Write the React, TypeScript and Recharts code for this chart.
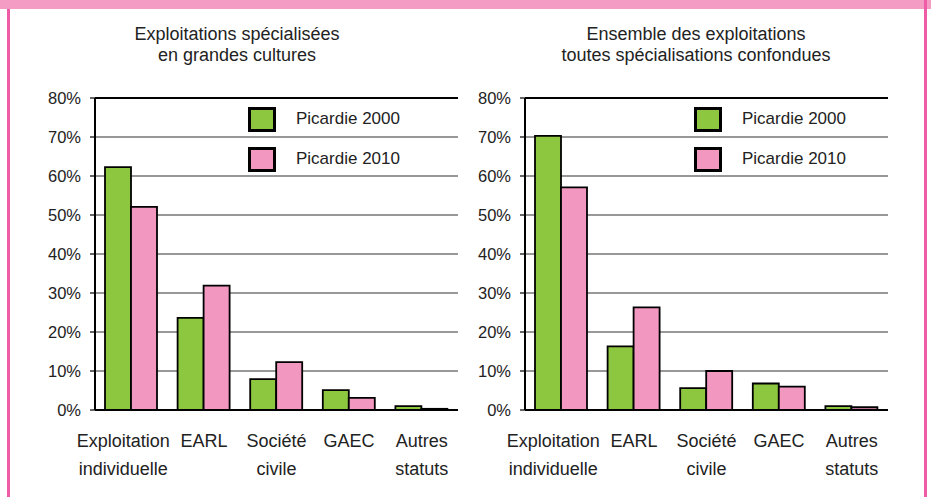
import React from "react";
import { BarChart, Bar, XAxis, YAxis, CartesianGrid, Legend, ReferenceLine } from "recharts";

const categories = ["Exploitation individuelle", "EARL", "Société civile", "GAEC", "Autres statuts"];
const categoryLines = [["Exploitation", "individuelle"], ["EARL"], ["Société", "civile"], ["GAEC"], ["Autres", "statuts"]];

const grandesCultures2000 = [62.3, 23.6, 7.9, 5.1, 1.0];
const grandesCultures2010 = [52.1, 31.9, 12.3, 3.1, 0.3];
const ensemble2000 = [70.3, 16.3, 5.6, 6.8, 1.0];
const ensemble2010 = [57.1, 26.3, 10.0, 6.0, 0.7];

const yTicks = [0, 10, 20, 30, 40, 50, 60, 70, 80];
const seriesNames = ["Picardie 2000", "Picardie 2010"];
const titles = [
  ["Exploitations spécialisées", "en grandes cultures"],
  ["Ensemble des exploitations", "toutes spécialisations confondues"],
];

const FONT = '"Liberation Sans", Arial, Helvetica, sans-serif';
const TEXT = "#222";
const GREEN = "#8DC63F";
const PINK = "#F297C0";

const build = (a: number[], b: number[]) =>
  categories.map((name, i) => ({ name, lines: categoryLines[i], v2000: a[i], v2010: b[i] }));

const CatTick = (props: any) => {
  const { x, y, index } = props;
  const lines = categoryLines[index] || [];
  const dx = index === 0 ? -8 : 0;
  return (
    <g>
      <text x={x + dx} y={y} textAnchor="middle" fill={TEXT} fontSize={18} fontFamily={FONT}>
        {lines.map((l: string, i: number) => (
          <tspan key={i} x={x + dx} dy={i === 0 ? 29 : 28}>
            {l}
          </tspan>
        ))}
      </text>
    </g>
  );
};

const LegendBox = (props: any) => {
  const { payload } = props;
  return (
    <div style={{ fontFamily: FONT }}>
      {(payload || []).map((p: any, i: number) => (
        <div key={i} style={{ position: "relative", height: 40 }}>
          <div
            style={{
              position: "absolute",
              left: 0,
              top: 0,
              width: 22,
              height: 19,
              background: p.color,
              border: "3px solid #000",
            }}
          />
          <div
            style={{
              position: "absolute",
              left: 48,
              top: 1,
              fontSize: 17,
              color: TEXT,
              whiteSpace: "nowrap",
              lineHeight: "22px",
            }}
          >
            {p.value}
          </div>
        </div>
      ))}
    </div>
  );
};

const Panel = ({ data, legendLeft }: { data: any[]; legendLeft: number }) => (
  <BarChart
    width={465}
    height={497}
    data={data}
    margin={{ top: 98, right: 7, bottom: 27, left: 0 }}
    barGap={0}
    barSize={26}
  >
    <CartesianGrid yAxisId="l" vertical={false} stroke="#333" strokeWidth={1.2} />
    <XAxis
      dataKey="name"
      interval={0}
      tickLine={false}
      axisLine={{ stroke: "#000", strokeWidth: 2 }}
      height={60}
      tick={<CatTick />}
    />
    <YAxis
      yAxisId="l"
      width={95}
      domain={[0, 80]}
      ticks={yTicks}
      tickFormatter={(v: number) => `${v}%`}
      tickSize={5}
      tickMargin={9}
      axisLine={{ stroke: "#000", strokeWidth: 2 }}
      tickLine={{ stroke: "#000", strokeWidth: 1.2 }}
      tick={{ fill: TEXT, fontSize: 16.5, fontFamily: FONT }}
      interval={0}
    />
    <YAxis
      yAxisId="r"
      orientation="right"
      width={0}
      domain={[0, 80]}
      tick={false}
      tickLine={false}
      axisLine={{ stroke: "#000", strokeWidth: 2 }}
    />
    <ReferenceLine yAxisId="l" y={80} stroke="#000" strokeWidth={2} />
    <Legend
      layout="vertical"
      align="center"
      verticalAlign="middle"
      content={<LegendBox />}
      wrapperStyle={{ position: "absolute", left: legendLeft, top: 107, width: 180 }}
    />
    <Bar yAxisId="l" dataKey="v2000" name={seriesNames[0]} fill={GREEN} stroke="#000" strokeWidth={1.8} isAnimationActive={false} />
    <Bar yAxisId="l" dataKey="v2010" name={seriesNames[1]} fill={PINK} stroke="#000" strokeWidth={1.8} isAnimationActive={false} />
  </BarChart>
);

export default function App() {
  return (
    <div style={{ position: "absolute", left: 0, top: 0, width: 931, height: 497, background: "#fff", overflow: "hidden" }}>
      <div style={{ position: "absolute", left: 0, top: 0 }}>
        <Panel data={build(grandesCultures2000, grandesCultures2010)} legendLeft={248} />
      </div>
      <div style={{ position: "absolute", left: 430, top: 0 }}>
        <Panel data={build(ensemble2000, ensemble2010)} legendLeft={264} />
      </div>
      <svg width={931} height={497} style={{ position: "absolute", left: 0, top: 0, pointerEvents: "none" }}>
        <rect x={0} y={0} width={931} height={9} fill="#F49CC3" />
        <rect x={7} y={9} width={3} height={488} fill="#EE5BA6" />
        <rect x={924} y={0} width={3} height={497} fill="#EE5BA6" />
        {titles.map((t, k) => (
          <text key={k} textAnchor="middle" fill={TEXT} fontSize={18} fontFamily={FONT}>
            <tspan x={k === 0 ? 237 : 696} y={40}>{t[0]}</tspan>
            <tspan x={k === 0 ? 237 : 696} y={61}>{t[1]}</tspan>
          </text>
        ))}
      </svg>
    </div>
  );
}
